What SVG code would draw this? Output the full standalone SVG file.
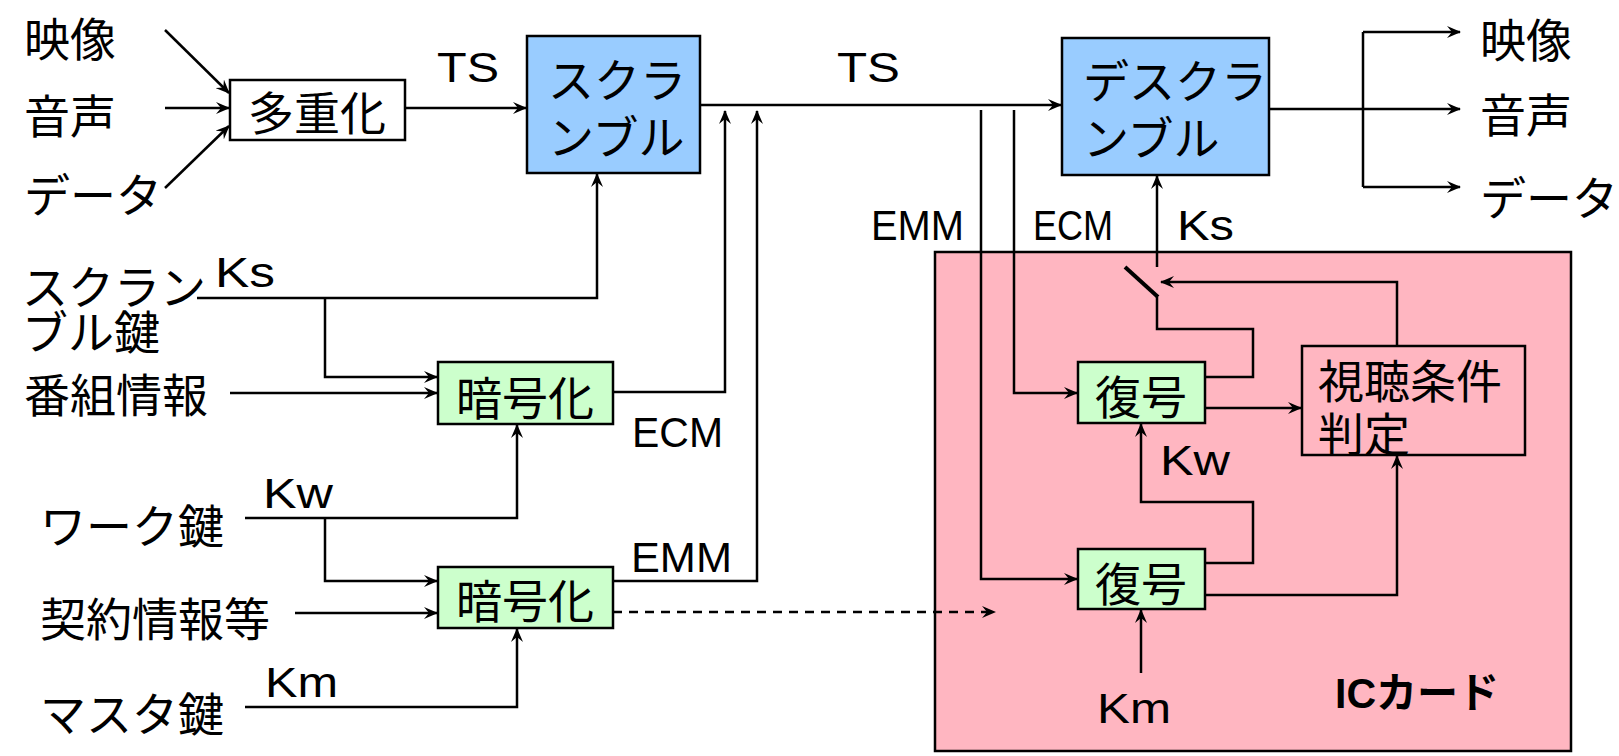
<svg xmlns="http://www.w3.org/2000/svg" width="1619" height="756" viewBox="0 0 1619 756">
<style>
.cjk{font-family:"Noto Sans CJK JP","Noto Sans CJK SC",sans-serif;font-size:46px;fill:#000;dominant-baseline:central}
.lat{font-family:"Liberation Sans",Arial,sans-serif;font-size:42px;fill:#000}
.mid{text-anchor:middle}
.box{stroke:#000;stroke-width:2.5}
.blue{fill:#99CCFF}
.green{fill:#CCFFCC}
.white{fill:#fff}
.conn path,.conn line{fill:none;stroke:#000;stroke-width:2.5}
.arr{marker-end:url(#ah)}
.dash{stroke-dasharray:9 7}
</style>
<defs>
<marker id="ah" viewBox="0 0 14 12" refX="13" refY="6" markerWidth="14" markerHeight="12" markerUnits="userSpaceOnUse" orient="auto">
<path d="M0,0 L14,6 L0,12 L5,6 z" fill="#000"/>
</marker>
</defs>
<rect width="1619" height="756" fill="#fff"/>

<g id="iccard">
<rect x="935" y="252" width="636" height="499" fill="#FFB6C1" stroke="#000" stroke-width="2.5"/>
<text x="1335" y="708" font-family="Liberation Sans,'Noto Sans CJK JP',sans-serif" font-size="42" font-weight="bold" textLength="164" lengthAdjust="spacingAndGlyphs">ICカード</text>
</g>

<g id="labels-left">
<text class="cjk" x="24" y="36">映像</text>
<text class="cjk" x="24" y="113">音声</text>
<text class="cjk" x="24" y="192">データ</text>
<text class="cjk"><tspan x="22" y="284">スクラン</tspan><tspan x="22" y="329">ブル鍵</tspan></text>
<text class="cjk" x="24" y="392">番組情報</text>
<text class="cjk" x="40" y="523">ワーク鍵</text>
<text class="cjk" x="40" y="616">契約情報等</text>
<text class="cjk" x="40" y="711">マスタ鍵</text>
</g>

<g id="labels-right">
<text class="cjk" x="1480" y="37">映像</text>
<text class="cjk" x="1480" y="112">音声</text>
<text class="cjk" x="1480" y="195">データ</text>
</g>

<g id="edge-labels">
<text class="lat" x="437" y="82" textLength="62" lengthAdjust="spacingAndGlyphs">TS</text>
<text class="lat" x="837" y="82" textLength="63" lengthAdjust="spacingAndGlyphs">TS</text>
<text class="lat" x="215" y="287" textLength="60" lengthAdjust="spacingAndGlyphs">Ks</text>
<text class="lat" x="632" y="447" textLength="91" lengthAdjust="spacingAndGlyphs">ECM</text>
<text class="lat" x="263" y="508" textLength="70" lengthAdjust="spacingAndGlyphs">Kw</text>
<text class="lat" x="631" y="572" textLength="101" lengthAdjust="spacingAndGlyphs">EMM</text>
<text class="lat" x="265" y="697" textLength="73" lengthAdjust="spacingAndGlyphs">Km</text>
<text class="lat" x="871" y="240" font-size="39" textLength="93" lengthAdjust="spacingAndGlyphs">EMM</text>
<text class="lat" x="1033" y="240" font-size="39" textLength="80" lengthAdjust="spacingAndGlyphs">ECM</text>
<text class="lat" x="1177" y="240" textLength="57" lengthAdjust="spacingAndGlyphs">Ks</text>
<text class="lat" x="1160" y="475" textLength="70" lengthAdjust="spacingAndGlyphs">Kw</text>
<text class="lat" x="1097" y="723" textLength="74" lengthAdjust="spacingAndGlyphs">Km</text>
</g>

<g id="mux">
<rect class="box white" x="230" y="80" width="175" height="60"/>
<text class="cjk mid" x="317" y="110">多重化</text>
</g>

<g id="scramble">
<rect class="box blue" x="527" y="36" width="173" height="137"/>
<text class="cjk"><tspan x="548" y="77">スクラ</tspan><tspan x="548" y="134">ンブル</tspan></text>
</g>

<g id="descramble">
<rect class="box blue" x="1062" y="38" width="207" height="137"/>
<text class="cjk"><tspan x="1083" y="78">デスクラ</tspan><tspan x="1083" y="135">ンブル</tspan></text>
</g>

<g id="enc1">
<rect class="box green" x="438" y="362" width="175" height="62"/>
<text class="cjk mid" x="525" y="395">暗号化</text>
</g>

<g id="enc2">
<rect class="box green" x="438" y="567" width="175" height="61"/>
<text class="cjk mid" x="525" y="598">暗号化</text>
</g>

<g id="dec1">
<rect class="box green" x="1078" y="362" width="127" height="61"/>
<text class="cjk mid" x="1141" y="394">復号</text>
</g>

<g id="dec2">
<rect class="box green" x="1078" y="549" width="127" height="60"/>
<text class="cjk mid" x="1141" y="581">復号</text>
</g>

<g id="judge">
<rect x="1302" y="346" width="223" height="109" fill="none" stroke="#000" stroke-width="2.5"/>
<text class="cjk"><tspan x="1318" y="378">視聴条件</tspan><tspan x="1318" y="431">判定</tspan></text>
</g>

<g id="connectors" class="conn">
<path class="arr" d="M165,30 L229,93"/>
<path class="arr" d="M165,108 L229,108"/>
<path class="arr" d="M165,188 L229,126"/>
<path class="arr" d="M405,108 L526,108"/>
<path class="arr" d="M700,105 L1061,105"/>
<path d="M1269,109 L1363,109 M1363,32 L1363,187"/>
<path class="arr" d="M1363,32 L1460,32"/>
<path class="arr" d="M1363,109 L1460,109"/>
<path class="arr" d="M1363,187 L1460,187"/>
<path class="arr" d="M197,298 L597,298 L597,174"/>
<path class="arr" d="M325,298 L325,377 L437,377"/>
<path class="arr" d="M230,393 L437,393"/>
<path class="arr" d="M613,392 L725,392 L725,111"/>
<path class="arr" d="M245,518 L517,518 L517,425"/>
<path class="arr" d="M325,518 L325,581 L437,581"/>
<path class="arr" d="M295,613 L437,613"/>
<path class="arr" d="M613,581 L757,581 L757,111"/>
<path class="arr" d="M245,707 L517,707 L517,629"/>
<path class="arr dash" d="M613,612 L995,612"/>
<path class="arr" d="M981,110 L981,579 L1077,579"/>
<path class="arr" d="M1014,110 L1014,393 L1077,393"/>
<path class="arr" d="M1157,267 L1157,176"/>
<path d="M1125,267 L1158,297" style="stroke-width:4"/>
<path d="M1157,297 L1157,329 L1253,329 L1253,377 L1205,377"/>
<path class="arr" d="M1397,346 L1397,282 L1161,282"/>
<path class="arr" d="M1205,408 L1301,408"/>
<path class="arr" d="M1205,563 L1253,563 L1253,502 L1141,502 L1141,424"/>
<path class="arr" d="M1205,595 L1397,595 L1397,456"/>
<path class="arr" d="M1141,673 L1141,610"/>
</g>
</svg>
